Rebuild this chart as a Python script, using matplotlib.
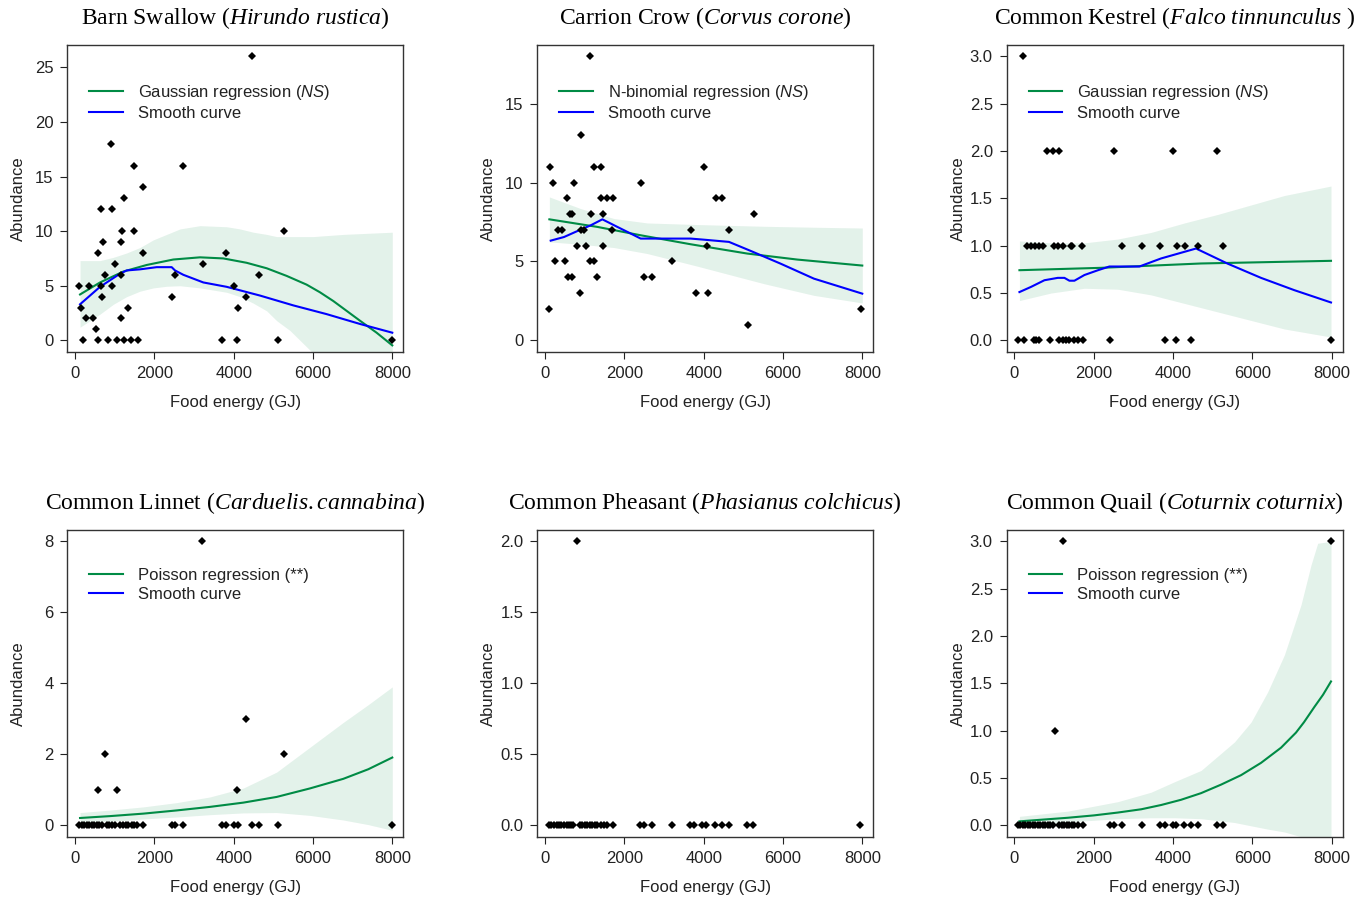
import numpy as np
import matplotlib
matplotlib.use("Agg")
import matplotlib.pyplot as plt
from matplotlib.lines import Line2D

plt.rcParams['font.family'] = 'Liberation Sans'
plt.rcParams['mathtext.fontset'] = 'custom'
plt.rcParams['mathtext.rm'] = 'Liberation Serif'
plt.rcParams['mathtext.it'] = 'Liberation Serif:italic'
plt.rcParams['mathtext.sf'] = 'Liberation Sans:italic'

GREEN = '#008B45'
BLUE = '#0000FF'

# ---- Barn Swallow ----
swallow_x = [4469, 899, 1478, 2713, 1705, 1243, 647, 924, 1176, 1478, 5275, 697, 1151,
             571, 1722, 3805, 1000, 3217, 748, 1151, 2512, 4645, 109, 344, 647, 924, 4007,
             672, 2436, 4309, 143, 1327, 4116, 269, 445, 1151, 521,
             210, 571, 823, 1050, 1243, 1420, 1579, 3696, 4091, 5124, 7997]
swallow_y = [26, 18, 16, 16, 14, 13, 12, 12, 10, 10, 10, 9, 9,
             8, 8, 8, 7, 7, 6, 6, 6, 6, 5, 5, 5, 5, 5,
             4, 4, 4, 3, 3, 3, 2, 2, 2, 1,
             0, 0, 0, 0, 0, 0, 0, 0, 0, 0, 0]
swallow_fit_x = [126, 630, 1218, 1806, 2478, 3150, 3738, 4326, 4830, 5334, 5838, 6174,
                 6510, 6846, 7182, 7602, 7997]
swallow_fit_y = [4.2, 5.3, 6.3, 6.9, 7.4, 7.6, 7.5, 7.1, 6.6, 5.9, 5.1, 4.4,
                 3.6, 2.7, 1.8, 0.7, -0.46]
swallow_ci_x = [126, 378, 630, 966, 1302, 1638, 1974, 2310, 2646, 3150, 3822, 4158, 4494,
                4830, 5082, 5418, 5670, 6006, 6762, 7997]
swallow_ci_hi = [7.3, 7.3, 7.3, 7.6, 8.0, 8.5, 9.2, 9.7, 10.2, 10.5, 10.4, 10.2, 9.9,
                 9.7, 9.5, 9.5, 9.5, 9.5, 9.7, 9.9]
swallow_ci_lo = [1.2, 1.8, 2.4, 3.3, 4.0, 4.5, 4.8, 4.95, 5.0, 4.8, 4.4, 4.0, 3.4,
                 2.7, 1.8, 0.9, 0.0, -1.2, -3.5, -7.0]
swallow_smooth_x = [126, 378, 630, 882, 1134, 1302, 1638, 2058, 2436, 2520, 2730, 3234,
                    3822, 4662, 5502, 6342, 7182, 7997]
swallow_smooth_y = [3.3, 4.1, 4.9, 5.5, 6.1, 6.4, 6.5, 6.7, 6.7, 6.4, 6.0, 5.3,
                    4.9, 4.1, 3.2, 2.4, 1.5, 0.7]

# ---- Carrion Crow ----
crow_x = [1134, 916, 126, 1235, 1420, 3998, 210, 731, 2428, 563, 1420, 1571, 1705, 4301, 4452,
          620, 670, 1168, 1453, 5267, 328, 437, 899, 983, 1697, 3679, 4637, 815, 1033, 1462, 4074,
          252, 504, 1134, 1235, 3200, 580, 680, 1319, 2495, 2696, 882, 3797, 4108, 109, 7972, 5107]
crow_y = [18, 13, 11, 11, 11, 11, 10, 10, 10, 9, 9, 9, 9, 9, 9,
          8, 8, 8, 8, 8, 7, 7, 7, 7, 7, 7, 7, 6, 6, 6, 6,
          5, 5, 5, 5, 5, 4, 4, 4, 4, 4, 3, 3, 3, 2, 2, 1]
crow_fit_x = [109, 1319, 2411, 3671, 5099, 6359, 7997]
crow_fit_y = [7.67, 7.19, 6.66, 6.09, 5.5, 5.12, 4.74]
crow_ci_x = [109, 899, 1739, 2579, 3839, 5519, 6779, 7997]
crow_ci_hi = [9.09, 8.35, 7.72, 7.44, 7.34, 7.23, 7.17, 7.12]
crow_ci_lo = [6.24, 6.09, 5.88, 5.5, 4.7, 3.59, 2.85, 2.37]
crow_smooth_x = [143, 479, 899, 1151, 1445, 1823, 2159, 2411, 2705, 3671, 4007, 4637,
                 5183, 5939, 6779, 7997]
crow_smooth_y = [6.32, 6.55, 7.02, 7.29, 7.67, 7.19, 6.77, 6.45, 6.45, 6.45, 6.38, 6.24,
                 5.67, 4.86, 3.91, 2.96]

# ---- Common Kestrel ----
kestrel_x = [210,
             815, 983, 1134, 2503, 4007, 5107,
             311, 420, 529, 630, 714, 1008, 1109, 1218, 1428, 1453, 1705, 2705, 3209, 3679,
             4099, 4292, 4637, 5258,
             84, 252, 487, 546, 630, 899, 1134, 1218, 1302, 1386, 1495, 1613, 1722, 2419,
             3797, 4074, 4452, 7980]
kestrel_y = [3,
             2, 2, 2, 2, 2, 2,
             1, 1, 1, 1, 1, 1, 1, 1, 1, 1, 1, 1, 1, 1,
             1, 1, 1, 1,
             0, 0, 0, 0, 0, 0, 0, 0, 0, 0, 0, 0, 0, 0,
             0, 0, 0, 0]
kestrel_fit_x = [126, 2184, 4704, 7980]
kestrel_fit_y = [0.741, 0.766, 0.812, 0.84]
kestrel_ci_x = [126, 924, 1764, 2604, 3444, 4284, 5124, 5964, 6804, 7980]
kestrel_ci_hi = [1.05, 1.03, 1.03, 1.07, 1.14, 1.24, 1.33, 1.43, 1.53, 1.63]
kestrel_ci_lo = [0.42, 0.50, 0.55, 0.54, 0.48, 0.39, 0.30, 0.21, 0.12, 0.035]
kestrel_smooth_x = [126, 420, 756, 1092, 1260, 1386, 1512, 1764, 2100, 2394, 3150, 3696,
                    4200, 4578, 5376, 6216, 7056, 7980]
kestrel_smooth_y = [0.51, 0.565, 0.635, 0.66, 0.66, 0.63, 0.63, 0.69, 0.74, 0.78, 0.78, 0.865,
                    0.925, 0.97, 0.81, 0.66, 0.53, 0.40]

# ---- Common Linnet ----
linnet_x = [3209, 4318, 748, 5275, 571, 1050, 4091,
            109, 168, 227, 294, 361, 420, 487, 546, 613, 672, 798, 865, 924, 1008, 1134,
            1218, 1285, 1344, 1428, 1487, 1571, 1705, 2436, 2520, 2713, 3696, 3805, 4007,
            4116, 4469, 4645, 5124, 7997]
linnet_y = [8, 3, 2, 2, 1, 1, 1] + [0] * 33
linnet_fit_x = [126, 882, 1722, 2562, 3402, 4242, 5082, 5922, 6762, 7392, 7997]
linnet_fit_y = [0.207, 0.26, 0.33, 0.42, 0.52, 0.64, 0.80, 1.04, 1.31, 1.58, 1.91]
linnet_ci_hi = [0.36, 0.43, 0.52, 0.64, 0.80, 1.05, 1.5, 2.2, 2.9, 3.4, 3.9]
linnet_ci_lo = [0.066, 0.11, 0.18, 0.235, 0.30, 0.35, 0.36, 0.28, 0.15, 0.02, -0.14]

# ---- Common Pheasant ----
pheasant_x = [813,
              101, 159, 226, 293, 352, 411, 478, 545, 603, 662, 712, 880, 939, 1006, 1064,
              1131, 1190, 1249, 1316, 1400, 1483, 1567, 1710, 2405, 2489, 2698, 3201, 3662,
              3763, 3955, 4056, 4291, 4458, 4626, 5087, 5254, 7952]
pheasant_y = [2] + [0] * 37

# ---- Common Quail ----
quail_x = [1235, 7980, 1033,
           84, 151, 210, 269, 336, 403, 462, 529, 588, 655, 714, 773, 840, 907, 966, 1134,
           1193, 1260, 1319, 1386, 1445, 1512, 1596, 1722, 2419, 2503, 2705, 3209, 3679,
           3797, 3990, 4074, 4284, 4452, 4637, 5107, 5258]
quail_y = [3, 3, 1] + [0] * 37
quail_fit_x = [126, 700, 1344, 2000, 2604, 3200, 3700, 4200, 4704, 5208, 5712, 6216,
               6720, 7098, 7300, 7560, 7780, 7980]
quail_fit_y = [0.042, 0.06, 0.08, 0.105, 0.135, 0.17, 0.215, 0.27, 0.34, 0.43, 0.53, 0.66,
               0.82, 0.98, 1.09, 1.25, 1.38, 1.52]
quail_ci_x = [126, 1344, 2604, 3444, 4032, 4704, 5544, 5964, 6384, 6804, 7224, 7476, 7644, 7980]
quail_ci_hi = [0.095, 0.15, 0.25, 0.35, 0.46, 0.58, 0.88, 1.09, 1.41, 1.80, 2.33, 2.75, 2.98, 3.0]
quail_ci_lo = [0.01, 0.035, 0.07, 0.08, 0.08, 0.07, 0.03, -0.005, -0.04, -0.07, -0.12, -0.17,
               -0.2, -0.3]

W, H = 1365, 899
fig = plt.figure(figsize=(W / 100, H / 100), dpi=100)

col_left = [67.3, 537.3, 1006.7]
row_top = [45, 530]
AW, AH = 336, 306.7


def make_ax(row, col):
    l = col_left[col]
    t = row_top[row]
    return fig.add_axes([l / W, 1 - (t + AH) / H, AW / W, AH / H])


def panel(ax, title, x, y, ytop, yticks, ylabels, fit=None, smooth=None, ci=None, label=None):
    if ci is not None:
        ax.fill_between(ci[0], ci[1], ci[2], color=GREEN, alpha=0.11, lw=0)
    if fit is not None:
        ax.plot(fit[0], fit[1], color=GREEN, lw=1.5)
    if smooth is not None:
        ax.plot(smooth[0], smooth[1], color=BLUE, lw=1.5)
    ax.plot(x, y, 'D', color='black', markersize=4, markeredgewidth=0)
    ax.set_xlim(-195, 8275)
    ax.set_ylim(-0.04 * ytop, 1.04 * ytop)
    ax.set_xticks([0, 2000, 4000, 6000, 8000])
    ax.set_yticks(yticks)
    ax.set_yticklabels(ylabels)
    ax.tick_params(direction='out', length=5, width=0.8, labelsize=12, pad=5, colors='#222222')
    for s in ax.spines.values():
        s.set_linewidth(1)
        s.set_color('#333333')
    ax.set_xlabel('Food energy (GJ)', fontsize=12, color='#222222')
    ax.set_ylabel('Abundance', fontsize=12, color='#222222')
    ax.xaxis.set_label_coords(0.5, -0.142)
    ax.yaxis.set_label_coords(-0.122, 0.5)
    ax.set_title(title, fontfamily='Liberation Serif', fontsize=17, pad=15)
    if label is not None:
        handles = [Line2D([], [], color=GREEN, lw=1.5), Line2D([], [], color=BLUE, lw=1.5)]
        ax.legend(handles, [label, 'Smooth curve'], loc='upper left',
                  bbox_to_anchor=(0.066, 0.876), borderaxespad=0, borderpad=0,
                  frameon=False, fontsize=12, handlelength=2.0, handletextpad=0.9,
                  labelspacing=0.25, labelcolor='#222222')


ax = make_ax(0, 0)
panel(ax, r'Barn Swallow ($\mathit{Hirundo\ rustica}$)', swallow_x, swallow_y, 26,
      [0, 5, 10, 15, 20, 25], ['0', '5', '10', '15', '20', '25'],
      fit=(swallow_fit_x, swallow_fit_y), smooth=(swallow_smooth_x, swallow_smooth_y),
      ci=(swallow_ci_x, swallow_ci_lo, swallow_ci_hi),
      label=r'Gaussian regression ($\mathsf{NS}$)')

ax = make_ax(0, 1)
panel(ax, r'Carrion Crow ($\mathit{Corvus\ corone}$)', crow_x, crow_y, 18,
      [0, 5, 10, 15], ['0', '5', '10', '15'],
      fit=(crow_fit_x, crow_fit_y), smooth=(crow_smooth_x, crow_smooth_y),
      ci=(crow_ci_x, crow_ci_lo, crow_ci_hi),
      label=r'N-binomial regression ($\mathsf{NS}$)')

half_ticks = [0, 0.5, 1.0, 1.5, 2.0, 2.5, 3.0]
half_labels = ['0.0', '0.5', '1.0', '1.5', '2.0', '2.5', '3.0']

ax = make_ax(0, 2)
panel(ax, r'Common Kestrel ($\mathit{Falco\ tinnunculus}$ )', kestrel_x, kestrel_y, 3,
      half_ticks, half_labels,
      fit=(kestrel_fit_x, kestrel_fit_y), smooth=(kestrel_smooth_x, kestrel_smooth_y),
      ci=(kestrel_ci_x, kestrel_ci_lo, kestrel_ci_hi),
      label=r'Gaussian regression ($\mathsf{NS}$)')

ax = make_ax(1, 0)
panel(ax, r'Common Linnet ($\mathit{Carduelis.cannabina}$)', linnet_x, linnet_y, 8,
      [0, 2, 4, 6, 8], ['0', '2', '4', '6', '8'],
      fit=(linnet_fit_x, linnet_fit_y),
      ci=(linnet_fit_x, linnet_ci_lo, linnet_ci_hi),
      label='Poisson regression (**)')

ax = make_ax(1, 1)
panel(ax, r'Common Pheasant ($\mathit{Phasianus\ colchicus}$)', pheasant_x, pheasant_y, 2,
      [0, 0.5, 1.0, 1.5, 2.0], ['0.0', '0.5', '1.0', '1.5', '2.0'])

ax = make_ax(1, 2)
panel(ax, r'Common Quail ($\mathit{Coturnix\ coturnix}$)', quail_x, quail_y, 3,
      half_ticks, half_labels,
      fit=(quail_fit_x, quail_fit_y),
      ci=(quail_ci_x, quail_ci_lo, quail_ci_hi),
      label='Poisson regression (**)')

fig.savefig('out.png', dpi=100)
